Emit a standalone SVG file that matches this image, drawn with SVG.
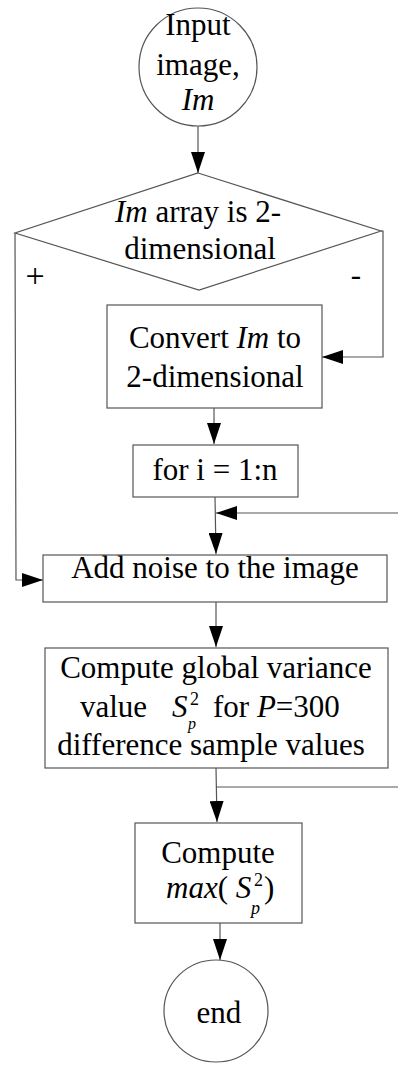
<svg xmlns="http://www.w3.org/2000/svg" width="398" height="1067" viewBox="0 0 398 1067">
<style>
.t{font-family:"Liberation Serif","Times New Roman",serif;font-size:31px;fill:#000}
.m{text-anchor:middle}
.i{font-style:italic}
.s{font-size:18px}
.n{fill:#fff;stroke:#555;stroke-width:1.2}
.c{fill:none;stroke:#555;stroke-width:1.2}
</style>
<defs>
<marker id="ar" markerUnits="userSpaceOnUse" markerWidth="22" markerHeight="14" refX="21" refY="7" orient="auto">
<path d="M0,0 L21,7 L0,14 z" fill="#000"/>
</marker>
</defs>
<rect width="398" height="1067" fill="#fff"/>
<g id="connectors">
<path class="c" d="M198,126 L198,173" marker-end="url(#ar)"/>
<path class="c" d="M381,231 L383,231 L383,357 L322,357" marker-end="url(#ar)"/>
<path class="c" d="M15,233 L16,580 L43,580" marker-end="url(#ar)"/>
<path class="c" d="M214,408 L214,444" marker-end="url(#ar)"/>
<path class="c" d="M215,497 L216,554" marker-end="url(#ar)"/>
<path class="c" d="M398,513 L216,513" marker-end="url(#ar)"/>
<path class="c" d="M216,602 L216,647" marker-end="url(#ar)"/>
<path class="c" d="M216,768 L217,822" marker-end="url(#ar)"/>
<path class="c" d="M216,787 L398,787"/>
<path class="c" d="M220,923 L220,960" marker-end="url(#ar)"/>
</g>
<g id="start">
<circle class="n" cx="198" cy="67" r="59"/>
<text class="t m" x="198" y="35">Input</text>
<text class="t m" x="198" y="75">image,</text>
<text class="t m i" x="198" y="110">Im</text>
</g>
<g id="decision">
<polygon class="n" points="198,173 381,231 199,290 15,233"/>
<text class="t m" x="198" y="222"><tspan class="i">Im</tspan> array is 2-</text>
<text class="t m" x="200" y="259">dimensional</text>
<text class="t m" x="35" y="287" style="font-size:34px">+</text>
<text class="t m" x="356" y="285">-</text>
</g>
<g id="convert">
<rect class="n" x="107" y="305" width="215" height="103"/>
<text class="t m" x="215" y="348">Convert <tspan class="i">Im</tspan> to</text>
<text class="t m" x="215" y="387">2-dimensional</text>
</g>
<g id="loop">
<rect class="n" x="133" y="445" width="165" height="52"/>
<text class="t m" x="215" y="480">for i = 1:n</text>
</g>
<g id="noise">
<rect class="n" x="43" y="555" width="344" height="47"/>
<text class="t m" x="215" y="578">Add noise to the image</text>
</g>
<g id="variance">
<rect class="n" x="45" y="648" width="343" height="120"/>
<text class="t m" x="216" y="678">Compute global variance</text>
<text class="t" x="80" y="717">value</text>
<text class="t i" x="172" y="717">S</text>
<text class="t s" x="190" y="705">2</text>
<text class="t s i" x="188" y="729" style="font-size:16px">p</text>
<text class="t" x="213" y="717">for <tspan class="i">P</tspan>=300</text>
<text class="t m" x="211" y="755">difference sample values</text>
</g>
<g id="max">
<rect class="n" x="135" y="823" width="167" height="100"/>
<text class="t m" x="218" y="863">Compute</text>
<text class="t" x="166" y="898"><tspan class="i">max</tspan>( <tspan class="i">S</tspan></text>
<text class="t s" x="254" y="886">2</text>
<text class="t s i" x="251" y="914">p</text>
<text class="t" x="264" y="898">)</text>
</g>
<g id="end">
<ellipse class="n" cx="216" cy="1011" rx="52" ry="51"/>
<text class="t m" x="219" y="1023">end</text>
</g>
</svg>
